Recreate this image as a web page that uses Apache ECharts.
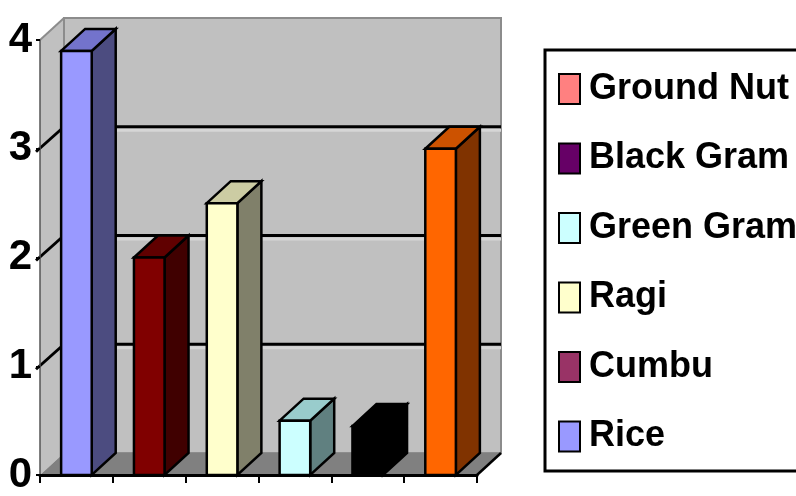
<!DOCTYPE html>
<html>
<head>
<meta charset="utf-8">
<title>Crop area</title>
<script src="https://cdn.jsdelivr.net/npm/echarts@6/dist/echarts.min.js"></script>
<style>
  html, body { margin: 0; padding: 0; background: #fff; }
  #chart { width: 796px; height: 496px; }
</style>
</head>
<body>
<div id="chart"></div>
<script>
// Crops along the category axis, left to right
const categories = ['Rice', 'Cumbu', 'Ragi', 'Green Gram', 'Black Gram', 'Ground Nut'];
// Value for each crop
const values = [3.9, 2.0, 2.5, 0.5, 0.45, 3.0];
// Front-face colour of each column
const barColors = ['#9999FF', '#800000', '#FFFFCC', '#CCFFFF', '#000000', '#FF6600'];
// Side and top shades of each column
const sideColors = ['#4C4C80', '#400000', '#80806A', '#608080', '#000000', '#803300'];
const topColors = ['#7373CC', '#600000', '#CCCCA3', '#99CCCC', '#000000', '#CC5200'];
// Legend entries, top to bottom, with their swatch colours
const legendOrder = ['Ground Nut', 'Black Gram', 'Green Gram', 'Ragi', 'Cumbu', 'Rice'];
const legendColors = ['#FF8080', '#660066', '#CCFFFF', '#FFFFCC', '#993366', '#9999FF'];
// Value-axis ticks
const yTicks = [0, 1, 2, 3, 4];

const DX = 24;   // depth offset of the 3D box, x
const DY = -22;  // depth offset of the 3D box, y
const FONT = '"Liberation Sans", Arial, sans-serif';

const chart = echarts.init(document.getElementById('chart'), null, { renderer: 'canvas' });

// Walls, floor and gridlines of the 3D plot box
function renderWalls(params, api) {
  const cs = params.coordSys;
  const x = cs.x, y = cs.y, w = cs.width, h = cs.height;
  const children = [];
  // left wall
  children.push({ type: 'polygon', shape: { points: [[x, y + h], [x, y], [x + DX, y + DY], [x + DX, y + h + DY]] },
    style: { fill: '#C0C0C0', stroke: null } });
  // back wall
  children.push({ type: 'rect', shape: { x: x + DX, y: y + DY, width: w, height: h },
    style: { fill: '#C0C0C0', stroke: '#8C8C8C', lineWidth: 2 } });
  // floor
  children.push({ type: 'polygon', shape: { points: [[x, y + h], [x + w, y + h], [x + w + DX, y + h + DY], [x + DX, y + h + DY]] },
    style: { fill: '#808080', stroke: null } });
  // top edge of the left wall
  children.push({ type: 'line', shape: { x1: x, y1: y, x2: x + DX, y2: y + DY },
    style: { stroke: '#8C8C8C', lineWidth: 2 } });
  // gridlines on the back wall and the left wall
  yTicks.forEach(function (v) {
    if (v === yTicks[0] || v === yTicks[yTicks.length - 1]) return;
    const yv = api.coord([0, v])[1];
    children.push({ type: 'line', shape: { x1: x + DX, y1: yv + DY + 3.5, x2: x + w + DX, y2: yv + DY + 3.5 },
      style: { stroke: '#D6D6D6', lineWidth: 3 } });
    children.push({ type: 'line', shape: { x1: x + DX, y1: yv + DY, x2: x + w + DX, y2: yv + DY },
      style: { stroke: '#000', lineWidth: 3 } });
    children.push({ type: 'line', shape: { x1: x - 4, y1: yv + 3, x2: x + DX, y2: yv + DY },
      style: { stroke: '#000', lineWidth: 3 } });
  });
  // right edge of the floor
  children.push({ type: 'line', shape: { x1: x + w, y1: y + h, x2: x + w + DX, y2: y + h + DY },
    style: { stroke: '#000', lineWidth: 2.5 } });
  return { type: 'group', children: children };
}

// One 3D column: front face, side face and top face
function renderColumn(params, api) {
  const idx = api.value(0);
  const base = api.coord([idx, 0]);
  const top = api.coord([idx, api.value(1)]);
  const band = api.size([1, 0])[0];
  const bw = band * 0.42;
  const x0 = base[0] - bw / 2, x1 = base[0] + bw / 2;
  const yb = base[1], yt = top[1];
  const stroke = { stroke: '#000', lineWidth: 2.5, lineJoin: 'miter' };
  return {
    type: 'group',
    children: [
      { type: 'polygon', shape: { points: [[x1, yt], [x1 + DX, yt + DY], [x1 + DX, yb + DY], [x1, yb]] },
        style: Object.assign({ fill: sideColors[idx] }, stroke) },
      { type: 'polygon', shape: { points: [[x0, yt], [x0 + DX, yt + DY], [x1 + DX, yt + DY], [x1, yt]] },
        style: Object.assign({ fill: topColors[idx] }, stroke) },
      { type: 'rect', shape: { x: x0, y: yt, width: bw, height: yb - yt },
        style: Object.assign({ fill: barColors[idx] }, stroke) }
    ]
  };
}

const series = [{
  name: 'box',
  type: 'custom',
  renderItem: renderWalls,
  data: [[0, 0]],
  z: 1,
  silent: true,
  clip: false
}];
categories.forEach(function (name, i) {
  series.push({
    name: name,
    type: 'custom',
    renderItem: renderColumn,
    data: [[i, values[i]]],
    itemStyle: { color: legendColors[legendOrder.indexOf(name)] },
    z: 3,
    clip: false
  });
});

const option = {
  backgroundColor: '#fff',
  animation: false,
  grid: { left: 40, top: 40, width: 437, height: 442, containLabel: false },
  xAxis: {
    type: 'category',
    data: categories,
    boundaryGap: true,
    z: 10,
    axisLine: { show: true, lineStyle: { color: '#000', width: 3 } },
    axisTick: { show: true, interval: 0, length: 8, inside: false, lineStyle: { color: '#000', width: 2 } },
    axisLabel: { show: false, interval: 0 },
    splitLine: { show: false }
  },
  yAxis: {
    type: 'value',
    min: 0,
    max: 4,
    interval: 1,
    z: 10,
    axisLine: { show: true, lineStyle: { color: '#555', width: 1.5 } },
    axisTick: { show: true, length: 4, lineStyle: { color: '#000', width: 2 } },
    axisLabel: { show: true, margin: 8, color: '#000', fontSize: 42, fontWeight: 'bold', fontFamily: FONT },
    splitLine: { show: false }
  },
  legend: {
    orient: 'vertical',
    left: 558,
    top: 71,
    padding: 0,
    icon: 'rect',
    itemWidth: 21,
    itemHeight: 30,
    itemGap: 33.5,
    selectedMode: false,
    textStyle: { color: '#000', fontSize: 36, fontWeight: 'bold', fontFamily: FONT, padding: [0, 0, 0, 4] },
    data: legendOrder.map(function (name, i) {
      return { name: name, itemStyle: { color: legendColors[i], borderColor: '#000', borderWidth: 2 } };
    })
  },
  graphic: [{
    type: 'rect',
    z: 1,
    shape: { x: 545, y: 50, width: 300, height: 421 },
    style: { fill: '#fff', stroke: '#000', lineWidth: 3 }
  }],
  series: series
};

chart.setOption(option);
</script>
</body>
</html>
